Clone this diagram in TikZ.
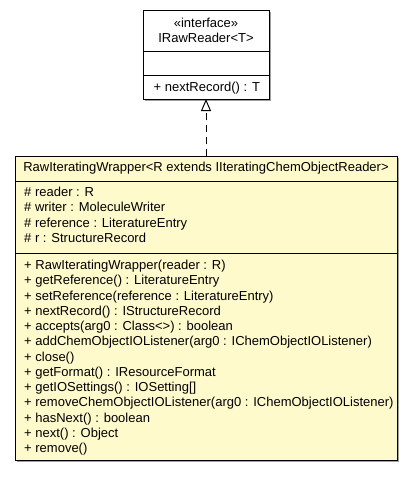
\documentclass[tikz,border=0pt]{standalone}
\usepackage{fontspec}
\setmainfont{Liberation Sans}
\usetikzlibrary{arrows.meta}
\definecolor{umlfill}{RGB}{255,250,204}
\definecolor{umlshadow}{RGB}{160,160,160}
\begin{document}
\begin{tikzpicture}[x=1pt,y=-1pt,
  box/.style={draw=black, line width=1pt, anchor=north west, inner sep=0pt, outer sep=0pt},
  shadowbox/.style={fill=umlshadow},
  sep/.style={draw=black, line width=1pt},
  txt/.style={font=\fontsize{13}{15.5}\selectfont, inner sep=0pt, anchor=base west},
  ctxt/.style={font=\fontsize{13}{15.5}\selectfont, inner sep=0pt, anchor=base},
  realize/.style={line width=1pt, dash pattern=on 7pt off 5pt, -{Triangle[open, length=12pt, width=10pt, line width=1pt]}}
]
\useasboundingbox (0,0) rectangle (413,480);

% interface box
\fill[shadowbox] (145,12) rectangle (271,101);
\node[box, fill=white, minimum width=126pt, minimum height=89pt] (iface) at (143,10) {};
\draw[sep] (143,51) -- (269,51);
\draw[sep] (143,75) -- (269,75);
\node[ctxt] (ifst) at (206,27.5) {«interface»};
\node[ctxt] (ifname) at (206,42.2) {IRawReader<T>};
\node[txt] (ifm1) at (153.5,91.4) {+ nextRecord() : T};

% class box
\fill[shadowbox] (17,158) rectangle (399,462);
\node[box, fill=umlfill, minimum width=382pt, minimum height=304pt] (wrap) at (15,156) {};
\draw[sep] (15,181) -- (397,181);
\draw[sep] (15,253) -- (397,253);
\node[ctxt] (wname) at (206,171.5) {RawIteratingWrapper<R extends IIteratingChemObjectReader>};

\foreach \t [count=\i] in {{\# reader : R},{\# writer : MoleculeWriter},{\# reference : LiteratureEntry},{\# r : StructureRecord}}
  \node[txt] (a\i) at (24,{196+(\i-1)*15.5}) {\t};

\foreach \t [count=\i] in {{+ RawIteratingWrapper(reader : R)},{+ getReference() : LiteratureEntry},{+ setReference(reference : LiteratureEntry)},{+ nextRecord() : IStructureRecord},{+ accepts(arg0 : Class<>) : boolean},{+ addChemObjectIOListener(arg0 : IChemObjectIOListener)},{+ close()},{+ getFormat() : IResourceFormat},{+ getIOSettings() : IOSetting[]},{+ removeChemObjectIOListener(arg0 : IChemObjectIOListener)},{+ hasNext() : boolean},{+ next() : Object},{+ remove()}}
  \node[txt] (m\i) at (24,{269.5+(\i-1)*15.25}) {\t};

% realization
\draw[realize] (wrap.north) -- (iface.south);
\end{tikzpicture}
\end{document}
